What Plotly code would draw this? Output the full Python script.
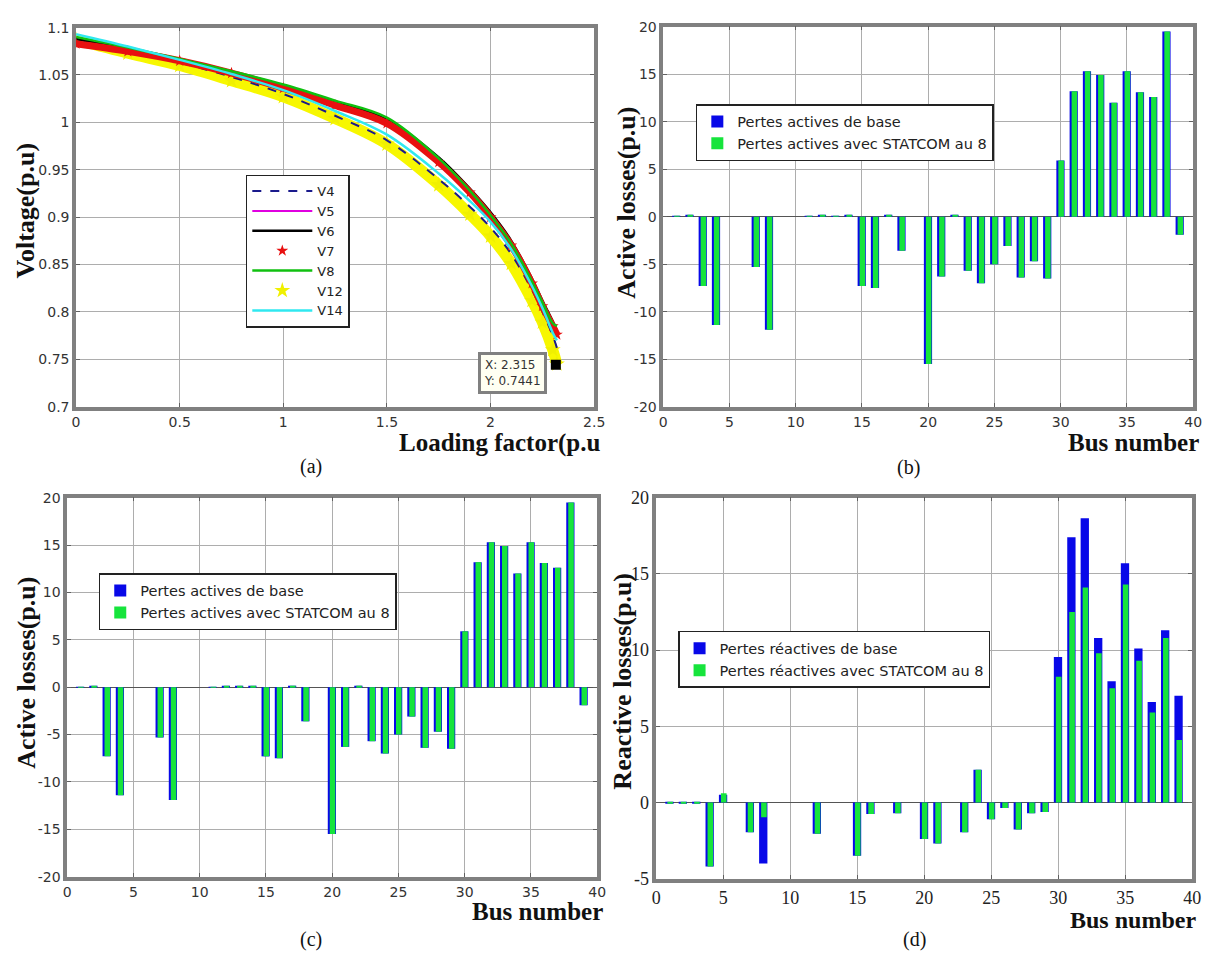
import plotly.graph_objects as go

# ---------------- data ----------------
loading = [0, 0.25, 0.5, 0.75, 1.0, 1.25, 1.5, 1.75, 1.9, 2.0, 2.1, 2.2, 2.25, 2.3, 2.32]
V4 = [1.088, 1.076, 1.063, 1.048, 1.030, 1.007, 0.981, 0.940, 0.911, 0.889, 0.861, 0.823, 0.800, 0.775, 0.762]
V5 = [1.089, 1.078, 1.066, 1.052, 1.037, 1.020, 1.001, 0.960, 0.927, 0.901, 0.871, 0.831, 0.808, 0.786, 0.774]
V6 = [1.088, 1.078, 1.066, 1.053, 1.039, 1.022, 1.003, 0.963, 0.930, 0.905, 0.875, 0.835, 0.812, 0.790, 0.780]
V7 = [1.083, 1.075, 1.065, 1.052, 1.036, 1.018, 0.999, 0.958, 0.926, 0.900, 0.870, 0.830, 0.806, 0.785, 0.776]
V8 = [1.090, 1.079, 1.067, 1.054, 1.040, 1.023, 1.005, 0.962, 0.928, 0.902, 0.872, 0.832, 0.810, 0.788, 0.785]
V12 = [1.087, 1.073, 1.060, 1.044, 1.027, 1.004, 0.977, 0.934, 0.903, 0.880, 0.851, 0.812, 0.789, 0.760, 0.745]
V14 = [1.093, 1.080, 1.066, 1.051, 1.034, 1.012, 0.987, 0.946, 0.917, 0.895, 0.866, 0.827, 0.804, 0.778, 0.770]
tip_x = [2.315]
tip_y = [0.7441]

buses = list(range(1, 40))
active_base = [0.05, 0.15, -7.3, -11.4, 0, 0, -5.3, -11.9, 0, 0,
               0.05, 0.15, 0.1, 0.12, -7.3, -7.5, 0.15, -3.6, 0, -15.5,
               -6.3, 0.15, -5.7, -7.0, -5.0, -3.1, -6.4, -4.7, -6.5, 5.9,
               13.2, 15.3, 14.9, 12.0, 15.3, 13.1, 12.6, 19.5, -1.9]
active_statcom = [0.05, 0.15, -7.3, -11.4, 0, 0, -5.3, -11.9, 0, 0,
                  0.05, 0.15, 0.1, 0.12, -7.3, -7.5, 0.15, -3.6, 0, -15.5,
                  -6.3, 0.15, -5.7, -7.0, -5.0, -3.1, -6.4, -4.7, -6.5, 5.9,
                  13.2, 15.3, 14.9, 12.0, 15.3, 13.1, 12.6, 19.5, -1.9]
reactive_base = [-0.05, -0.05, -0.05, -4.2, 0.5, 0, -1.95, -4.0, 0, 0,
                 0, -2.05, 0, 0, -3.5, -0.75, 0, -0.7, 0, -2.4,
                 -2.7, 0, -1.95, 2.15, -1.1, -0.37, -1.77, -0.7, -0.63, 9.55,
                 17.4, 18.65, 10.8, 7.95, 15.7, 10.1, 6.6, 11.3, 7.0]
reactive_statcom = [-0.05, -0.05, -0.05, -4.2, 0.6, 0, -1.95, -0.97, 0, 0,
                    0, -2.05, 0, 0, -3.5, -0.75, 0, -0.7, 0, -2.4,
                    -2.7, 0, -1.95, 2.15, -1.1, -0.37, -1.77, -0.7, -0.63, 8.25,
                    12.5, 14.1, 9.8, 7.5, 14.3, 9.3, 5.9, 10.8, 4.1]

load_ticks = [0, 0.5, 1, 1.5, 2, 2.5]
load_labels = ['0', '0.5', '1', '1.5', '2', '2.5']
volt_ticks = [0.7, 0.75, 0.8, 0.85, 0.9, 0.95, 1.0, 1.05, 1.1]
volt_labels = ['0.7', '0.75', '0.8', '0.85', '0.9', '0.95', '1', '1.05', '1.1']
bus_ticks = [0, 5, 10, 15, 20, 25, 30, 35, 40]
bus_labels = ['0', '5', '10', '15', '20', '25', '30', '35', '40']
loss_ticks = [-20, -15, -10, -5, 0, 5, 10, 15, 20]
loss_labels = ['-20', '-15', '-10', '-5', '0', '5', '10', '15', '20']
react_ticks = [-5, 0, 5, 10, 15, 20]
react_labels = ['-5', '0', '5', '10', '15', '20']

# ---------------- layout helpers ----------------
W, H = 1221, 967
def px(x):
    return x / W
def py(y):
    return 1 - y / H

BLUE = '#0808e8'
GREEN = '#16e43c'
SANS = 'DejaVu Sans, Verdana, sans-serif'
SERIF = 'Liberation Serif, Times New Roman, serif'

fig = go.Figure()

# ---------------- panel (a) ----------------
series = [
    ('V12', V12, dict(color='#f7f700', width=11), 'star', '#f0f000'),
    ('V4', V4, dict(color='#1a1a8c', width=2, dash='dash'), None, None),
    ('V5', V5, dict(color='#e000e0', width=2), None, None),
    ('V6', V6, dict(color='#000000', width=2.5), None, None),
    ('V7', V7, dict(color='#e81010', width=7), 'star', '#e81010'),
    ('V8', V8, dict(color='#10c010', width=2.5), None, None),
    ('V14', V14, dict(color='#30e8f0', width=2.5), None, None),
]
rank = {'V4': 1, 'V5': 2, 'V6': 3, 'V7': 4, 'V8': 5, 'V12': 6, 'V14': 7}
for name, ys, line, sym, mcol in series:
    if sym is None:
        fig.add_trace(go.Scatter(x=loading, y=ys, mode='lines', name=name, line=dict(shape='spline', **line),
                                 xaxis='x', yaxis='y', legend='legend', legendrank=rank[name]))
    else:
        fig.add_trace(go.Scatter(x=loading, y=ys, mode='lines', name=name, line=dict(shape='spline', **line),
                                 xaxis='x', yaxis='y', showlegend=False, legendgroup=name))
        fig.add_trace(go.Scatter(x=loading, y=ys, mode='markers', name=name, legendgroup=name,
                                 marker=dict(symbol=sym, color=mcol, size=9 if name == 'V7' else 12),
                                 xaxis='x', yaxis='y', legend='legend', legendrank=rank[name]))
fig.add_trace(go.Scatter(x=tip_x, y=tip_y, mode='markers', marker=dict(symbol='square', color='black', size=10),
                         xaxis='x', yaxis='y', showlegend=False))

# ---------------- bar panels ----------------
def add_bars(xa, ya, leg, base, stat, lbase, lstat):
    fig.add_trace(go.Bar(x=buses, y=base, name=lbase, marker=dict(color=BLUE, line=dict(width=0)),
                         width=0.62, offset=-0.33, xaxis=xa, yaxis=ya, legend=leg))
    fig.add_trace(go.Bar(x=buses, y=stat, name=lstat, marker=dict(color=GREEN, line=dict(width=0)),
                         width=0.42, offset=-0.18, xaxis=xa, yaxis=ya, legend=leg))

add_bars('x2', 'y2', 'legend2', active_base, active_statcom,
         'Pertes actives de base', 'Pertes actives avec STATCOM au 8')
add_bars('x3', 'y3', 'legend3', active_base, active_statcom,
         'Pertes actives de base', 'Pertes actives avec STATCOM au 8')
add_bars('x4', 'y4', 'legend4', reactive_base, reactive_statcom,
         'Pertes réactives de base', 'Pertes réactives avec STATCOM au 8')

# ---------------- axes ----------------
def axis(domain, rng, tv, tt, anchor, font, zeroline=False):
    return dict(domain=domain, range=rng, tickvals=tv, ticktext=tt, anchor=anchor,
                showgrid=True, gridcolor='#adadad', gridwidth=1.2,
                showline=True, linecolor='#808080', linewidth=3.5, mirror='ticks',
                ticks='inside', ticklen=4, tickcolor='#606060',
                tickfont=font, zeroline=zeroline, zerolinecolor='#555555', zerolinewidth=1.2,
                fixedrange=True)

tf_sans = dict(family=SANS, size=14, color='#333333')
tf_serif = dict(family=SERIF, size=18, color='#222222')

dom_a_x = [px(72), px(597)]
dom_a_y = [py(405), py(18)]
dom_b_x = [px(667), px(1204)]
dom_b_y = [py(405), py(17)]
dom_c_x = [px(63), px(600)]
dom_c_y = [py(885), py(498)]
dom_d_x = [px(660), px(1203)]
dom_d_y = [py(887), py(498)]

fig.update_layout(
    width=W, height=H, margin=dict(l=0, r=0, t=0, b=0),
    paper_bgcolor='white', plot_bgcolor='white',
    barmode='overlay', showlegend=True,
    xaxis=axis(dom_a_x, [0, 2.5], load_ticks, load_labels, 'y', tf_sans),
    yaxis=axis(dom_a_y, [0.7, 1.1], volt_ticks, volt_labels, 'x', tf_sans),
    xaxis2=axis(dom_b_x, [0, 40], bus_ticks, bus_labels, 'y2', tf_sans),
    yaxis2=axis(dom_b_y, [-20, 20], loss_ticks, loss_labels, 'x2', tf_sans, True),
    xaxis3=axis(dom_c_x, [0, 40], bus_ticks, bus_labels, 'y3', tf_sans),
    yaxis3=axis(dom_c_y, [-20, 20], loss_ticks, loss_labels, 'x3', tf_sans, True),
    xaxis4=axis(dom_d_x, [0, 40], bus_ticks, bus_labels, 'y4', tf_serif),
    yaxis4=axis(dom_d_y, [-5, 20], react_ticks, react_labels, 'x4', tf_serif, True),
)

leg_common = dict(bgcolor='white', bordercolor='#222222', borderwidth=1.5, xanchor='left', yanchor='top',
                  xref='paper', yref='paper', tracegroupgap=0)
leg_font = dict(family=SANS, size=14.5, color='#222')
fig.update_layout(
    legend=dict(x=px(244), y=py(168), font=dict(family=SANS, size=13, color='#222'), itemwidth=60, **leg_common),
    legend2=dict(x=px(700), y=py(96), font=leg_font, **leg_common),
    legend3=dict(x=px(95), y=py(575), font=leg_font, **leg_common),
    legend4=dict(x=px(682), y=py(634), font=leg_font, **leg_common),
)

# ---------------- titles / captions ----------------
ann = []
def label(text, x, y, size, angle=0, bold=True, xanchor='center'):
    ann.append(dict(text=('<b>%s</b>' % text) if bold else text, x=px(x), y=py(y), xref='paper', yref='paper',
                    showarrow=False, textangle=angle, xanchor=xanchor, yanchor='middle',
                    font=dict(family=SERIF, size=size, color='#111')))

label('Voltage(p.u)', 21, 205, 26, -90)
label('Loading factor(p.u', 606, 442, 25, xanchor='right')
label('(a)', 310, 466, 20, bold=False)
label('Active losses(p.u)', 630, 197, 26, -90)
label('Bus number', 1212, 442, 25, xanchor='right')
label('(b)', 915, 467, 20, bold=False)
label('Active losses(p.u)', 22, 677, 26, -90)
label('Bus number', 608, 921, 25, xanchor='right')
label('(c)', 310, 949, 20, bold=False)
label('Reactive losses(p.u)', 626, 685, 26, -90)
label('Bus number', 1209, 929, 24, xanchor='right')
label('(d)', 922, 949, 20, bold=False)

# data tip
ann.append(dict(text='X: 2.315<br>Y: 0.7441', x=tip_x[0], y=tip_y[0], xref='x', yref='y', showarrow=False,
                xanchor='right', yanchor='top', xshift=-9, yshift=13, align='left',
                font=dict(family=SANS, size=12, color='#333'), bgcolor='#fffff2',
                bordercolor='#808080', borderwidth=3, borderpad=3))
fig.update_layout(annotations=ann)

fig.write_html('out.html')
